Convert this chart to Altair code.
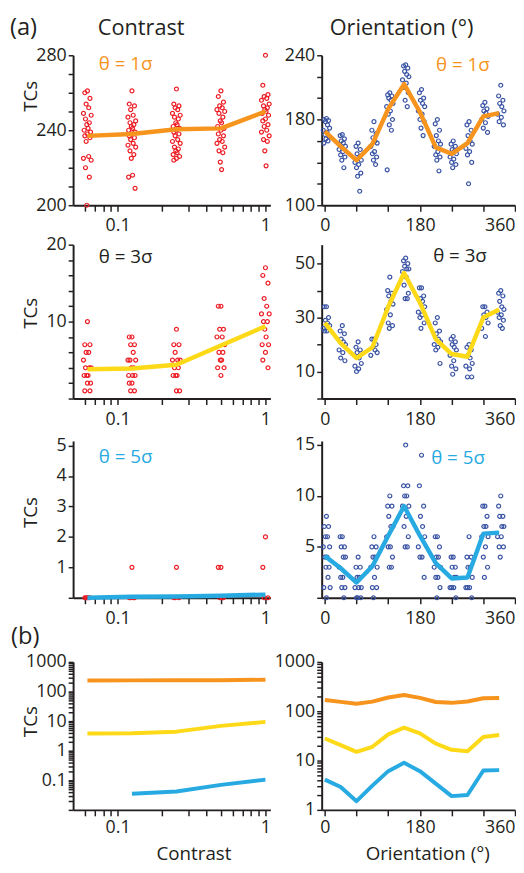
import altair as alt
import pandas as pd

# ---------------- data ----------------
CONTRAST = [0.0625, 0.125, 0.25, 0.5, 1.0]
ORIENT = [0, 30, 60, 90, 120, 150, 180, 210, 240, 270, 300, 330]

# small horizontal spread of the neurons inside one stimulus column
C_JIT = [1.0, 0.96, 1.04, 0.98, 1.02, 0.94, 1.06, 0.97, 1.03, 0.99, 1.01, 0.95, 1.05]
O_JIT = [3, -1, 7, 1, 5, 9, -3, 4, 0, 8, 2, 6, -2, 10, 3, 5]

# (a) contrast tuning, one list per contrast level
CON_1S = [
    [261, 260, 257, 254, 252, 249, 248, 246, 244, 243, 241, 240, 239, 238, 237, 236, 234, 226, 225, 224, 220, 215, 200],
    [261, 254, 253, 251, 248, 247, 245, 244, 243, 242, 241, 240, 239, 238, 237, 236, 235, 233, 232, 231, 229, 227, 225, 216, 215, 209],
    [262, 254, 253, 252, 251, 249, 248, 247, 246, 244, 243, 242, 241, 240, 239, 238, 237, 235, 234, 233, 231, 230, 229, 228, 227, 226, 225, 224],
    [261, 258, 255, 253, 252, 251, 250, 249, 247, 245, 244, 242, 241, 240, 238, 237, 235, 234, 233, 231, 229, 228, 223, 219],
    [280, 264, 259, 258, 257, 256, 254, 253, 252, 251, 250, 249, 248, 246, 245, 243, 242, 240, 239, 237, 235, 234, 229, 221],
]
CON_3S = [
    [10, 7, 7, 6, 6, 5, 4, 4, 4, 3, 3, 3, 2, 2, 1, 1],
    [8, 8, 7, 7, 6, 5, 5, 5, 4, 4, 3, 3, 3, 2, 2, 1, 1],
    [9, 7, 7, 6, 5, 5, 5, 4, 4, 3, 3, 3, 1, 1],
    [12, 12, 9, 9, 8, 8, 7, 6, 6, 5, 5, 4, 4, 3],
    [17, 16, 15, 13, 12, 11, 11, 10, 10, 9, 8, 7, 7, 6, 5, 4],
]
CON_5S = [
    [0, 0, 0, 0, 0],
    [1, 0, 0, 0, 0],
    [1, 0, 0, 0],
    [1, 1, 0, 0, 0],
    [2, 1, 0, 0],
]
MEAN_CON_1S = [237, 238, 240.5, 241, 250]
MEAN_CON_3S = [3.8, 3.9, 4.4, 6.9, 9.4]
MEAN_CON_5S = [0.0, 0.035, 0.042, 0.07, 0.105]

# (a) orientation tuning, one list per orientation
ORI_1S = [
    [181, 180, 179, 178, 175, 172, 170, 168, 166, 164, 162, 160, 158],
    [166, 165, 162, 160, 158, 155, 152, 150, 147, 145, 142, 135],
    [158, 155, 152, 148, 145, 142, 140, 138, 135, 130, 127, 113],
    [178, 170, 167, 163, 160, 158, 155, 150, 148, 145, 142, 138],
    [205, 203, 202, 200, 198, 195, 192, 188, 185, 180, 175, 170, 133],
    [231, 230, 228, 225, 222, 220, 217, 214, 210, 205, 198, 192],
    [208, 205, 200, 198, 195, 192, 188, 185, 180, 178, 172, 165],
    [180, 176, 170, 165, 160, 157, 155, 150, 147, 145, 142, 132],
    [160, 157, 155, 152, 150, 148, 145, 143, 140, 138, 135],
    [178, 175, 170, 165, 160, 157, 153, 150, 147, 140, 120],
    [196, 193, 190, 188, 186, 183, 180, 177, 172, 168],
    [212, 202, 198, 195, 192, 188, 185, 182, 178, 175],
]
ORI_3S = [
    [34, 34, 30, 29, 28, 27, 26, 25, 25],
    [27, 25, 24, 22, 21, 20, 18, 17, 15, 14],
    [21, 19, 18, 17, 15, 13, 12, 11, 10],
    [22, 22, 20, 19, 18, 17, 16],
    [45, 40, 39, 38, 36, 35, 33, 31, 28, 27, 26],
    [52, 51, 50, 49, 48, 48, 47, 45, 42, 39, 37, 37],
    [41, 41, 38, 37, 36, 34, 32, 31, 30, 28, 26],
    [30, 28, 25, 24, 22, 21, 20, 19, 18, 13],
    [23, 22, 21, 20, 19, 18, 16, 14, 12, 11, 9],
    [20, 19, 18, 16, 15, 13, 12, 11, 8, 8],
    [34, 34, 32, 31, 30, 28, 26, 23],
    [40, 39, 38, 36, 34, 33, 32, 31, 30, 29, 27, 26],
]
ORI_5S = [
    [8, 7, 7, 6, 6, 5, 5, 4, 4, 3, 3, 2, 1, 1, 0],
    [6, 6, 5, 5, 4, 4, 3, 2, 2, 1, 1, 0],
    [4, 3, 3, 2, 2, 1, 1, 1, 0, 0, 0],
    [6, 5, 5, 4, 4, 3, 3, 2, 1, 1, 0],
    [10, 9, 9, 8, 7, 7, 6, 5, 5, 4, 3, 3],
    [15, 11, 11, 10, 10, 9, 9, 8, 7, 6, 5, 5],
    [14, 11, 9, 8, 7, 6, 5, 4, 4, 2],
    [6, 6, 5, 4, 4, 3, 3, 2, 2, 1, 0],
    [4, 4, 3, 3, 2, 2, 1, 1, 1, 0],
    [6, 4, 4, 3, 3, 2, 1, 1, 1, 0],
    [9, 9, 8, 7, 7, 6, 6, 5, 4, 3, 2],
    [10, 9, 8, 8, 7, 7, 6, 6, 5, 5, 4],
]
MEAN_ORI_1S = [169, 155, 142, 157, 190, 213, 187, 154, 148, 158, 183, 186]
MEAN_ORI_3S = [28, 20.5, 15, 19, 34, 46.5, 35.5, 22, 16.5, 15.5, 30, 33]
MEAN_ORI_5S = [4.1, 2.9, 1.5, 3.1, 6.1, 9.0, 6.1, 3.4, 1.9, 2.0, 6.3, 6.4]

SERIES = ["θ = 1σ", "θ = 3σ", "θ = 5σ"]

# axis ticks / labels
CON_TICKS = [0.06, 0.07, 0.08, 0.09, 0.1, 0.2, 0.3, 0.4, 0.5, 0.6, 0.7, 0.8, 0.9, 1]
CON_LABELS = [(0.1, "0.1"), (1, "1")]
ORI_TICKS = [0, 60, 120, 180, 240, 300, 360]
ORI_LABELS = [(0, "0"), (180, "180"), (360, "360")]
LOG_TICKS_L = [round(m * 10.0 ** e, 4) for e in range(-2, 3) for m in range(1, 10)] + [1000]
LOG_TICKS_R = [round(m * 10.0 ** e, 4) for e in range(0, 3) for m in range(1, 10)] + [1000]

# ---------------- style ----------------
FONT = "Open Sans"
INK = "#231F20"
ORANGE = "#F7941D"
YELLOW = "#FDD917"
CYAN = "#27AAE1"
RED = "#ED1C24"
BLUE = "#3953A4"

WL, WR = 200, 196
H1, H2, H3, HB = 152, 156, 159, 150


def lab_expr(pairs):
    expr = "''"
    for v, t in reversed(pairs):
        expr = f"datum.value == {v} ? '{t}' : ({expr})"
    return expr


def con_points(groups):
    rows = []
    for c, vals in zip(CONTRAST, groups):
        for i, v in enumerate(vals):
            rows.append({"x": c * C_JIT[i % len(C_JIT)], "y": v})
    return pd.DataFrame(rows)


def ori_points(groups):
    rows = []
    for o, vals in zip(ORIENT, groups):
        for i, v in enumerate(vals):
            rows.append({"x": o + O_JIT[i % len(O_JIT)], "y": v})
    return pd.DataFrame(rows)


def x_con(title=None):
    kw = dict(values=CON_TICKS, labelExpr=lab_expr(CON_LABELS))
    if title:
        kw.update(title=title, titleX=122, titleY=50, titleBaseline="alphabetic", titleAlign="center",
                  labelPadding=17)
    else:
        kw.update(title=None)
    return alt.X("x:Q", scale=alt.Scale(type="log", domain=[0.05, 1.08], nice=False),
                 axis=alt.Axis(**kw))


def x_ori(title=None):
    kw = dict(values=ORI_TICKS, labelExpr=lab_expr(ORI_LABELS),
              labelAlign={"condition": {"test": "datum.value == 360", "value": "right"}, "value": "center"})
    if title:
        kw.update(title=title, titleX=107, titleY=50, titleBaseline="alphabetic", titleAlign="center",
                  labelPadding=17)
    else:
        kw.update(title=None)
    return alt.X("x:Q", scale=alt.Scale(domain=[-6, 360], nice=False, zero=False),
                 axis=alt.Axis(**kw))


def y_axis(domain, ticks, labels, tc_y=None, log=False):
    kw = dict(values=ticks, labelExpr=lab_expr(labels))
    if tc_y is not None:
        kw.update(title="TCs", titleX=-37, titleY=tc_y, titleAngle=270,
                  titleBaseline="alphabetic", titleAlign="center")
    else:
        kw.update(title=None)
    sc = alt.Scale(type="log", domain=domain, nice=False) if log else \
        alt.Scale(domain=domain, nice=False, zero=False)
    return alt.Y("y:Q", scale=sc, axis=alt.Axis(**kw))


def text(s, x, y, color=INK, size=19, align="left"):
    return alt.Chart(pd.DataFrame({"t": [s]})).mark_text(
        align=align, baseline="middle", font=FONT, fontSize=size, color=color
    ).encode(x=alt.value(x), y=alt.value(y), text="t:N")


def panel(pts, mean_x, mean_y, X, Y, pcolor, lcolor, w, h, extra):
    p = alt.Chart(pts).mark_point(shape="circle", filled=False, size=16, strokeWidth=1.2,
                                  color=pcolor, opacity=1).encode(x=X, y=Y)
    ln = alt.Chart(pd.DataFrame({"x": mean_x, "y": mean_y})).mark_line(
        color=lcolor, strokeWidth=4.5, strokeJoin="round").encode(x=X, y=Y)
    return alt.layer(p, ln, *extra).properties(width=w, height=h)


r1L = panel(con_points(CON_1S), CONTRAST, MEAN_CON_1S, x_con(),
            y_axis([200, 280], list(range(200, 281, 10)), [(200, "200"), (240, "240"), (280, "280")], tc_y=41),
            RED, ORANGE, WL, H1,
            [text(SERIES[0], 26, 9, ORANGE),
             text("(a)", -64, -28, INK, 24),
             text("Contrast", 69, -28, INK, 22, "center")])
r1R = panel(ori_points(ORI_1S), ORIENT, MEAN_ORI_1S, x_ori(),
            y_axis([100, 240], list(range(100, 241, 20)), [(100, "100"), (180, "180"), (240, "240")]),
            BLUE, ORANGE, WR, H1,
            [text(SERIES[0], 116, 10, ORANGE),
             text("Orientation (°)", 81, -28, INK, 22, "center")])

r2L = panel(con_points(CON_3S), CONTRAST, MEAN_CON_3S, x_con(),
            y_axis([0, 20], list(range(0, 21, 2)), [(10, "10"), (20, "20")], tc_y=69),
            RED, YELLOW, WL, H2, [text(SERIES[1], 26, 13, INK)])
r2R = panel(ori_points(ORI_3S), ORIENT, MEAN_ORI_3S, x_ori(),
            y_axis([0, 57], list(range(0, 51, 10)), [(10, "10"), (30, "30"), (50, "50")]),
            BLUE, YELLOW, WR, H2, [text(SERIES[1], 113, 12, INK)])

r3L = panel(con_points(CON_5S), CONTRAST, MEAN_CON_5S, x_con(),
            y_axis([0, 5.15], [0, 1, 2, 3, 4, 5], [(1, "1"), (2, "2"), (3, "3"), (4, "4"), (5, "5")], tc_y=72),
            RED, CYAN, WL, H3, [text(SERIES[2], 26, 16, CYAN)])
r3R = panel(ori_points(ORI_5S), ORIENT, MEAN_ORI_5S, x_ori(),
            y_axis([0, 15.4], [0, 5, 10, 15], [(5, "5"), (10, "10"), (15, "15")]),
            BLUE, CYAN, WR, H3, [text(SERIES[2], 111, 17, CYAN)])

# (b) mean TCs on log axes
bL_rows = []
for s, vals in zip(SERIES, [MEAN_CON_1S, MEAN_CON_3S, MEAN_CON_5S]):
    for c, v in zip(CONTRAST, vals):
        if v > 0:
            bL_rows.append({"x": c, "y": v, "s": s})
bR_rows = []
for s, vals in zip(SERIES, [MEAN_ORI_1S, MEAN_ORI_3S, MEAN_ORI_5S]):
    for o, v in zip(ORIENT, vals):
        bR_rows.append({"x": o, "y": v, "s": s})

COLOR = alt.Color("s:N", scale=alt.Scale(domain=SERIES, range=[ORANGE, YELLOW, CYAN]), legend=None)

bL = alt.layer(
    alt.Chart(pd.DataFrame(bL_rows)).mark_line(strokeWidth=4, strokeJoin="round").encode(
        x=x_con("Contrast"),
        y=y_axis([0.01, 1000], LOG_TICKS_L,
                 [(0.1, "0.1"), (1, "1"), (10, "10"), (100, "100"), (1000, "1000")], tc_y=60, log=True),
        color=COLOR, detail="s:N"),
    text("(b)", -63, -25, INK, 24),
).properties(width=WL, height=HB)

bR = alt.Chart(pd.DataFrame(bR_rows)).mark_line(strokeWidth=4, strokeJoin="round").encode(
    x=x_ori("Orientation (°)"),
    y=y_axis([1, 1000], LOG_TICKS_R, [(1, "1"), (10, "10"), (100, "100"), (1000, "1000")], log=True),
    color=COLOR, detail="s:N",
).properties(width=WR, height=HB)


def spacer(h):
    return alt.Chart(pd.DataFrame({"v": [0]})).mark_point(opacity=0).encode(
        x=alt.value(0), y=alt.value(0)).properties(width=1, height=h)


chart = alt.concat(
    r1L, r1R,
    spacer(40), spacer(40),
    r2L, r2R,
    spacer(43), spacer(43),
    r3L, r3R,
    spacer(65), spacer(65),
    bL, bR,
    columns=2, spacing={"row": 0, "column": 52}, bounds="flush", align="each",
).properties(padding={"left": 2, "top": 2, "right": 0, "bottom": 0}).configure_view(stroke=None).configure_axis(
    grid=False, domainColor=INK, domainWidth=2, tickColor=INK, tickWidth=1.5,
    labelFont=FONT, labelFontSize=18, labelColor=INK, labelOverlap=False, labelFlush=False,
    titleFont=FONT, titleFontSize=19, titleFontWeight="normal", titleColor=INK,
).configure_axisX(tickSize=6, labelPadding=20, labelBaseline="alphabetic").configure_axisY(
    tickSize=5, labelPadding=2)

chart.save("out.html", embed_options={"renderer": "svg", "actions": False})
